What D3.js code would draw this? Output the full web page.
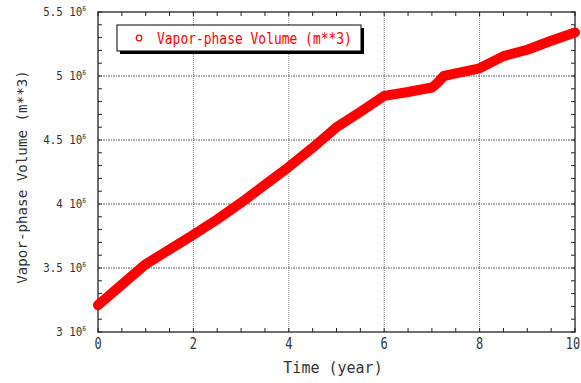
<!DOCTYPE html>
<html><head><meta charset="utf-8">
<script src="https://cdn.jsdelivr.net/npm/d3@7"></script>
<style>body{margin:0;background:#fff}svg{display:block}</style>
</head><body>
<script>
const timeYears = [0, 0.5, 1, 1.5, 2, 2.5, 3, 3.5, 4, 4.5, 5, 5.5, 6, 6.5, 7, 7.1, 7.25, 7.5, 8, 8.5, 9, 9.5, 10];
const vaporVolume = [3.21e6, 3.37e6, 3.53e6, 3.645e6, 3.76e6, 3.88e6, 4.01e6, 4.15e6, 4.29e6, 4.44e6, 4.6e6, 4.72e6, 4.845e6, 4.875e6, 4.91e6, 4.94e6, 5.0e6, 5.02e6, 5.06e6, 5.155e6, 5.205e6, 5.275e6, 5.34e6];
const xTicks = [0, 2, 4, 6, 8, 10];
const yTicks = [3e6, 3.5e6, 4e6, 4.5e6, 5e6, 5.5e6];
const yTickLabels = ["3", "3.5", "4", "4.5", "5", "5.5"];
const seriesName = "Vapor-phase Volume (m**3)";
const xLabel = "Time (year)";
const yLabel = "Vapor-phase Volume (m**3)";

const W = 581, H = 383;
const m = {l: 98, r: 575, t: 12, b: 332};
const svg = d3.select("body").append("svg").attr("width", W).attr("height", H);
const x = d3.scaleLinear().domain([0, 10]).range([m.l, m.r]);
const y = d3.scaleLinear().domain([3e6, 5.5e6]).range([m.b, m.t]);
const font = "'DejaVu Sans Mono', monospace";
const txt = "#333";

function stext(parent, px, py, sx, size, anchor) {
  return parent.append("text").attr("transform", `translate(${px},${py}) scale(${sx},1)`)
    .attr("text-anchor", anchor).attr("font-family", font).attr("font-size", size).attr("fill", txt);
}

// grid
const g = svg.append("g");
xTicks.slice(1, -1).forEach(v => g.append("line").attr("x1", x(v)).attr("x2", x(v)).attr("y1", m.t).attr("y2", m.b)
  .attr("stroke", "#777").attr("stroke-width", 1).attr("stroke-dasharray", "1,1"));
yTicks.slice(1, -1).forEach(v => g.append("line").attr("x1", m.l).attr("x2", m.r).attr("y1", y(v)).attr("y2", y(v))
  .attr("stroke", "#555").attr("stroke-width", 1).attr("stroke-dasharray", "2,1,1,1"));

// inner ticks on all sides
const xMinor = d3.range(0, 10.001, 0.5);
const yMinor = d3.range(3e6, 5.5e6 + 1, 1e5);
const ax = svg.append("g").attr("stroke", "#222").attr("stroke-width", 1);
xMinor.forEach(v => {
  ax.append("line").attr("x1", x(v)).attr("x2", x(v)).attr("y1", m.b).attr("y2", m.b - 4);
  ax.append("line").attr("x1", x(v)).attr("x2", x(v)).attr("y1", m.t).attr("y2", m.t + 4);
});
yMinor.forEach(v => {
  ax.append("line").attr("x1", m.l).attr("x2", m.l + 4).attr("y1", y(v)).attr("y2", y(v));
  ax.append("line").attr("x1", m.r).attr("x2", m.r - 4).attr("y1", y(v)).attr("y2", y(v));
});
svg.append("rect").attr("x", m.l).attr("y", m.t).attr("width", m.r - m.l).attr("height", m.b - m.t)
  .attr("fill", "none").attr("stroke", "#222").attr("stroke-width", 1.3);

// tick labels
xTicks.forEach(v => {
  const px = Math.min(x(v), W - 8);
  stext(svg, px, m.b + 17, 0.75, 16, "middle").text(v);
});
yTicks.forEach((v, i) => {
  const t = stext(svg, m.l - 12, y(v) + 3.5, 0.9, 12, "end");
  t.append("tspan").text(yTickLabels[i] + " 10");
  t.append("tspan").attr("dy", -5).attr("font-size", 7).text("6");
});

// axis labels
stext(svg, 333, 373, 1, 15, "middle").text(xLabel);
svg.append("text").attr("transform", `translate(27,177) rotate(-90)`).attr("text-anchor", "middle")
  .attr("font-family", font).attr("font-size", 14.2).attr("fill", txt).text(yLabel);

// series
const data = timeYears.map((t, i) => [t, vaporVolume[i]]);
svg.append("path").datum(data).attr("d", d3.line().x(d => x(d[0])).y(d => y(d[1])))
  .attr("fill", "none").attr("stroke", "#ff0000").attr("stroke-width", 10)
  .attr("stroke-linecap", "round").attr("stroke-linejoin", "round");

// legend
const lx = 117, ly = 25, lw = 244, lh = 26;
svg.append("rect").attr("x", lx + 3).attr("y", ly + 3).attr("width", lw).attr("height", lh).attr("fill", "#000");
svg.append("rect").attr("x", lx).attr("y", ly).attr("width", lw).attr("height", lh).attr("fill", "#fff").attr("stroke", "#000").attr("stroke-width", 1);
svg.append("circle").attr("cx", lx + 22).attr("cy", ly + 13).attr("r", 2.8).attr("fill", "none").attr("stroke", "#ff0000").attr("stroke-width", 1.2);
stext(svg, lx + 40, ly + 18.5, 0.81, 16, "start").attr("fill", "#ff0000").text(seriesName);
</script>
</body></html>
